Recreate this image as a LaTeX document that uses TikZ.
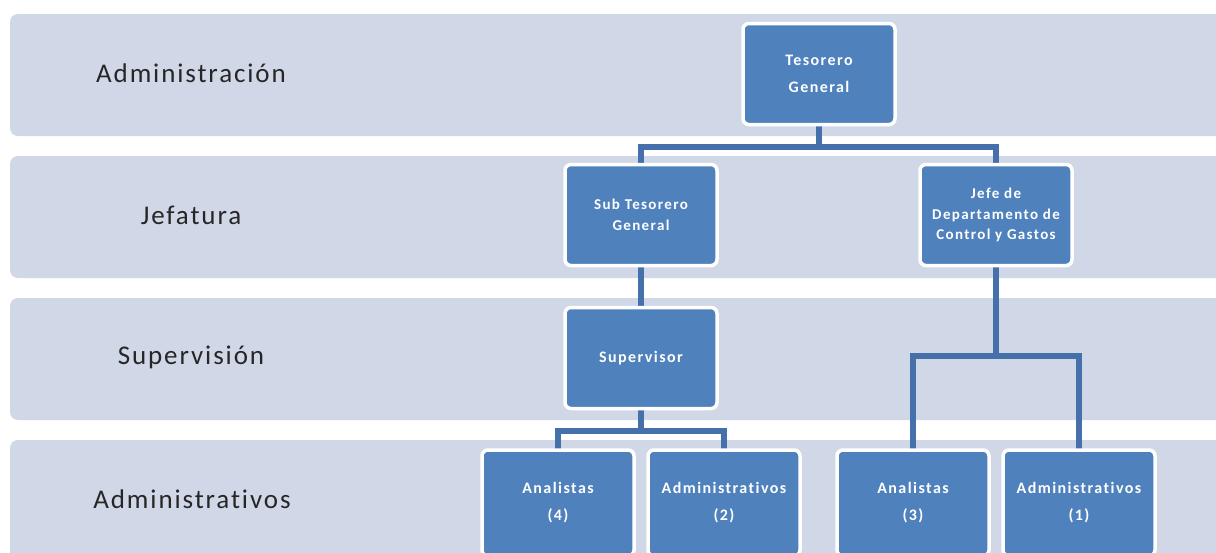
\documentclass[tikz,border=0pt]{standalone}
\usepackage{fontspec}
\setmainfont[Ligatures=NoCommon]{Carlito}
\begin{document}
\begin{tikzpicture}[x=1pt,y=-1pt,
  band/.style={fill=bandblue,draw=none,rounded corners=8pt},
  lvl/.style={font=\fontsize{27}{30}\selectfont\addfontfeature{LetterSpace=7},text=black!85,anchor=center},
  unit/.style={fill=boxblue,draw=white,line width=3.5pt,rounded corners=6pt,
    minimum width=152pt,minimum height=101pt,text=white,align=center,
    font=\bfseries\fontsize{16}{27}\selectfont\addfontfeature{LetterSpace=9},inner sep=2pt},
  small/.style={font=\bfseries\fontsize{15}{20.5}\selectfont\addfontfeature{LetterSpace=9}},
  link/.style={draw=linkblue,line width=5.5pt}]
\definecolor{bandblue}{HTML}{D0D8E8}
\definecolor{boxblue}{HTML}{4F81BD}
\definecolor{linkblue}{HTML}{4670AA}
\useasboundingbox (0,0) rectangle (1216,552);
\fill[white] (0,0) rectangle (1216,552);
% level bands
\fill[band] (10,14) rectangle (1230,136);
\fill[band] (10,156) rectangle (1230,278);
\fill[band] (10,298) rectangle (1230,420);
\fill[band] (10,440) rectangle (1230,570);
\node[lvl] (l1) at (191,73) {Administración};
\node[lvl] (l2) at (191,215) {Jefatura};
\node[lvl] (l3) at (191,357) {Supervisión};
\node[lvl] (l4) at (192,499) {Administrativos};
% connectors
\coordinate (j1) at (819,147);
\coordinate (j2) at (996,356);
\coordinate (j3) at (641,431);
\draw[link] (819,125) -- (j1);
\draw[link] (641,165) |- (j1) -| (996,165);
\draw[link] (641,266) -- (641,308);
\draw[link] (996,266) -- (j2);
\draw[link] (913,452) |- (j2) -| (1079,452);
\draw[link] (641,408) -- (j3);
\draw[link] (558,452) |- (j3) -| (724,452);
% units
\node[unit] (tg) at (819,74) {Tesorero\\General};
\node[unit,small] (st) at (641,215) {Sub Tesorero\\General};
\node[unit,small] (jd) at (996,215) {Jefe de\\Departamento de\\Control y Gastos};
\node[unit] (sv) at (641,358) {Supervisor};
\node[unit,minimum height=106pt] (a4) at (558,503) {Analistas\\(4)};
\node[unit,minimum height=106pt] (d2) at (724,503) {Administrativos\\(2)};
\node[unit,minimum height=106pt] (a3) at (913,503) {Analistas\\(3)};
\node[unit,minimum height=106pt] (d1) at (1079,503) {Administrativos\\(1)};
\end{tikzpicture}
\end{document}
